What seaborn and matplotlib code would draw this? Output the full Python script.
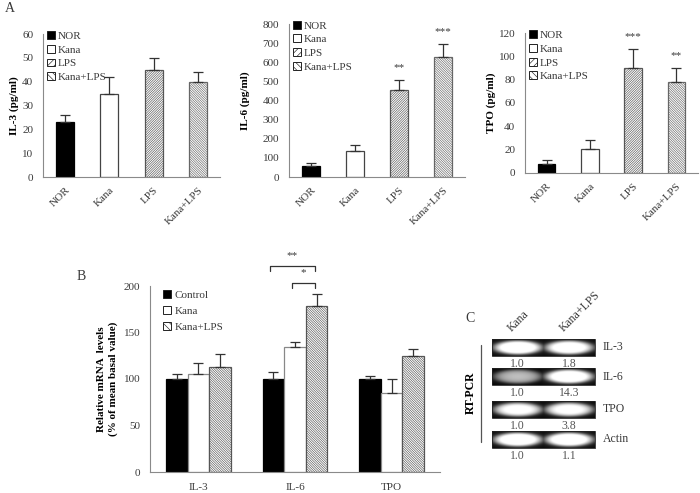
import numpy as np
import pandas as pd
import matplotlib
matplotlib.use("Agg")
import matplotlib.pyplot as plt
from matplotlib.patches import Patch, Rectangle
import seaborn as sns

# ---------------- data ----------------
groups_a = ["NOR", "Kana", "LPS", "Kana+LPS"]
il3_vals = [23, 35, 45, 40]
il3_err = [3, 7, 5, 4]
il6_vals = [60, 135, 455, 625]
il6_err = [15, 30, 50, 70]
tpo_vals = [8, 21, 90, 78]
tpo_err = [3, 7, 16, 12]
il6_stars = ["", "", "**", "***"]
tpo_stars = ["", "", "***", "**"]

genes_b = ["IL-3", "IL-6", "TPO"]
groups_b = ["Control", "Kana", "Kana+LPS"]
control_vals = [100, 100, 100]
control_err = [5, 8, 3]
kana_vals = [105, 134, 85]
kana_err = [12, 6, 15]
kanalps_vals = [113, 179, 125]
kanalps_err = [14, 12, 7]

gel_genes = ["IL-3", "IL-6", "TPO", "Actin"]
gel_lanes = ["Kana", "Kana+LPS"]
gel_ratio = [["1.0", "1.8"], ["1.0", "14.3"], ["1.0", "3.8"], ["1.0", "1.1"]]
gel_intensity = [[1.0, 0.95], [0.6, 1.0], [0.88, 0.88], [1.0, 1.0]]

# ---------------- style ----------------
sns.set_theme(style="white")
plt.rcParams["font.family"] = ["Liberation Serif", "DejaVu Serif"]
plt.rcParams["hatch.linewidth"] = 0.45
TXT = "#3a3a3a"
AX = "#8a8a8a"

fig = plt.figure(figsize=(7.0, 4.93), dpi=100)
W, H = 700.0, 493.0


def px_axes(l, r, t, b):
    return fig.add_axes([l / W, 1 - b / H, (r - l) / W, (b - t) / H])


HATCH_F = "/" * 14
HATCH_B = "\\" * 14
styles_a = {
    "NOR": dict(fc="black", ec="black", hatch=None),
    "Kana": dict(fc="white", ec="#444444", hatch=None),
    "LPS": dict(fc="white", ec="#555555", hatch=HATCH_F),
    "Kana+LPS": dict(fc="white", ec="#666666", hatch=HATCH_B),
}


def style_axis(ax, n, labels, rot):
    ax.set_xlim(-0.5, n - 0.5)
    for s in ["top", "right"]:
        ax.spines[s].set_visible(False)
    for s in ["left", "bottom"]:
        ax.spines[s].set_color(AX)
        ax.spines[s].set_linewidth(0.8)
    ax.set_xticks(np.arange(n + 1) - 0.5)
    ax.set_xticklabels([])
    ax.set_xticks(np.arange(n), minor=True)
    ax.tick_params(axis="x", which="major", direction="out", length=4, color=AX, width=0.8)
    ax.tick_params(axis="x", which="minor", length=0, pad=6 if rot else 8)
    if rot:
        ax.set_xticklabels(labels, minor=True, rotation=45, ha="right",
                           rotation_mode="anchor", fontsize=8, color=TXT)
    else:
        ax.set_xticklabels(labels, minor=True, fontsize=8, color=TXT)
    ax.tick_params(axis="y", direction="out", length=4, color=AX, width=0.8,
                   labelsize=8, labelcolor=TXT, pad=3)
    ax.set_xlabel("")


def panel_a(ax, vals, errs, ylabel, ymax, ystep, stars, labx):
    df = pd.DataFrame({"group": groups_a, "value": vals})
    sns.barplot(data=df, x="group", y="value", hue="group", order=groups_a,
                hue_order=groups_a, palette=["white"] * 4, width=0.41,
                errorbar=None, legend=False, ax=ax, linewidth=0.9)
    for cont, g, e, st in zip(ax.containers, groups_a, errs, stars):
        for p in cont:
            sty = styles_a[g]
            p.set_facecolor(sty["fc"])
            p.set_edgecolor(sty["ec"])
            if sty["hatch"]:
                p.set_hatch(sty["hatch"])
            cx = p.get_x() + p.get_width() / 2
            h = p.get_height()
            ax.errorbar([cx], [h], yerr=[[0], [e]], fmt="none", ecolor="#333333",
                        elinewidth=0.9, capsize=3.5, capthick=0.9, zorder=1)
            if st:
                ax.annotate(st, (cx, h + e), xytext=(0, 9), textcoords="offset points",
                            ha="center", va="center", fontsize=8, color=TXT)
    ax.set_ylim(0, ymax)
    ax.set_yticks(np.arange(0, ymax + 1, ystep))
    style_axis(ax, 4, groups_a, True)
    ax.set_ylabel(ylabel, fontsize=8, fontweight="bold", color="black")
    ax.yaxis.set_label_coords(labx, 0.5)
    handles = [Patch(facecolor=styles_a[g]["fc"], edgecolor="#222222",
                     hatch=("/" * 5 if styles_a[g]["hatch"] == HATCH_F else
                            "\\" * 5 if styles_a[g]["hatch"] else None),
                     linewidth=0.7) for g in groups_a]
    ax.legend(handles, groups_a, loc="upper left", bbox_to_anchor=(0.0, 1.05),
              frameon=False, fontsize=8, handlelength=0.7, handleheight=0.7,
              handletextpad=0.2, labelspacing=0.35, borderaxespad=0.0,
              labelcolor=TXT)


ax1 = px_axes(43, 220, 34, 177)
panel_a(ax1, il3_vals, il3_err, "IL-3 (pg/ml)", 60, 10, ["", "", "", ""], -0.135)
ax2 = px_axes(289, 465, 24, 177)
panel_a(ax2, il6_vals, il6_err, "IL-6 (pg/ml)", 800, 100, il6_stars, -0.22)
ax3 = px_axes(525, 698, 33, 173)
panel_a(ax3, tpo_vals, tpo_err, "TPO (pg/ml)", 120, 20, tpo_stars, -0.17)

# ---------------- panel B ----------------
axb = px_axes(150, 440, 286, 472)
dfb = pd.DataFrame({
    "gene": genes_b * 3,
    "group": [g for g in groups_b for _ in genes_b],
    "value": control_vals + kana_vals + kanalps_vals,
})
errs_b = [control_err, kana_err, kanalps_err]
sns.barplot(data=dfb, x="gene", y="value", hue="group", order=genes_b,
            hue_order=groups_b, palette=["white"] * 3, width=0.67, dodge=True,
            errorbar=None, legend=False, ax=axb, linewidth=0.9)
styles_b = {
    "Control": dict(fc="black", ec="black", hatch=None),
    "Kana": dict(fc="white", ec="#888888", hatch=None),
    "Kana+LPS": dict(fc="white", ec="#555555", hatch=HATCH_B),
}
centers_b = {}
for cont, g, errs in zip(axb.containers, groups_b, errs_b):
    sty = styles_b[g]
    centers_b[g] = []
    for p, e in zip(cont, errs):
        p.set_facecolor(sty["fc"])
        p.set_edgecolor(sty["ec"])
        if sty["hatch"]:
            p.set_hatch(sty["hatch"])
        cx = p.get_x() + p.get_width() / 2
        centers_b[g].append(cx)
        axb.errorbar([cx], [p.get_height()], yerr=[[0], [e]], fmt="none",
                     ecolor="#333333", elinewidth=0.9, capsize=3.5, capthick=0.9, zorder=1)
axb.set_ylim(0, 200)
axb.set_yticks([0, 50, 100, 150, 200])
style_axis(axb, 3, genes_b, False)
axb.set_ylabel("Relative mRNA  levels\n(% of mean basal value)", fontsize=8,
               fontweight="bold", color="black", linespacing=1.3)
axb.yaxis.set_label_coords(-0.11, 0.5)
hb = [Patch(facecolor=styles_b[g]["fc"], edgecolor="#222222",
            hatch=("\\" * 5 if styles_b[g]["hatch"] else None),
            linewidth=0.7) for g in groups_b]
axb.legend(hb, groups_b, loc="upper left", bbox_to_anchor=(0.03, 1.0), frameon=False,
           fontsize=8, handlelength=0.7, handleheight=0.7, handletextpad=0.3,
           labelspacing=0.55, borderaxespad=0.0, labelcolor=TXT)


def bracket(ax, x0, x1, ytop, yleg, txt, ytxt):
    ax.plot([x0, x0, x1, x1], [yleg, ytop, ytop, yleg], color="#333333", lw=0.9,
            clip_on=False)
    ax.text((x0 + x1) / 2, ytxt, txt, ha="center", va="center", fontsize=8,
            color=TXT, clip_on=False)


c_ctrl = centers_b["Control"][1]
c_kana = centers_b["Kana"][1]
c_kl = centers_b["Kana+LPS"][1]
bracket(axb, c_ctrl - 0.04, c_kl - 0.02, 221.5, 216, "**", 233)
bracket(axb, c_kana - 0.03, c_kl - 0.02, 203, 198, "*", 214)

# ---------------- panel C (gel) ----------------
axc = fig.add_axes([460 / W, 0, 240 / W, (H - 280) / H])
axc.set_xlim(460, 700)
axc.set_ylim(493, 280)
axc.axis("off")
gx0, gx1 = 492, 595
row_tops = [339, 368, 401, 431]
row_h = 17
nx, ny = 206, 34
xx = np.linspace(0, 1, nx)[None, :]
yy = np.linspace(0, 1, ny)[:, None]
for gene, top, inten, ratios in zip(gel_genes, row_tops, gel_intensity, gel_ratio):
    img = np.zeros((ny, nx))
    for k, amp in enumerate(inten):
        cx = 0.25 + 0.5 * k
        d = ((np.abs(xx - cx) / 0.235) ** 2 + (np.abs(yy - 0.5) / 0.42) ** 2)
        core = np.exp(-d ** 3)
        halo = np.exp(-d * 0.9)
        img = np.maximum(img, amp * (0.8 * core + 0.45 * halo))
    img = np.clip(img, 0, 1)
    axc.imshow(img, cmap="gray", vmin=0, vmax=1, extent=[gx0, gx1, top + row_h, top],
               aspect="auto", interpolation="bilinear", zorder=2)
    axc.add_patch(Rectangle((gx0, top), gx1 - gx0, row_h, fill=False, ec="#222222",
                            lw=0.6, zorder=3))
    axc.text(603, top + row_h / 2, gene, ha="left", va="center", fontsize=8.5, color=TXT)
    for k, r in enumerate(ratios):
        cx = gx0 + (gx1 - gx0) * (0.25 + 0.5 * k)
        axc.text(cx, top + row_h + 8, r, ha="center", va="center", fontsize=8.5,
                 color="#555555")
for k, lane in enumerate(gel_lanes):
    cx = gx0 + (gx1 - gx0) * (0.25 + 0.5 * k)
    axc.text(cx - 4, 334, lane, rotation=45, ha="left", va="bottom",
             rotation_mode="anchor", fontsize=8.5, color=TXT)
axc.plot([481, 481], [345, 442], color="#555555", lw=0.9)
axc.text(471, 393, "RT-PCR", rotation=90, ha="center", va="center", fontsize=8.5,
         fontweight="bold", color="black")

# panel letters
fig.text(10 / W, 1 - 9 / H, "A", ha="center", va="center", fontsize=10, color=TXT)
fig.text(81 / W, 1 - 276 / H, "B", ha="center", va="center", fontsize=10, color=TXT)
fig.text(470 / W, 1 - 318 / H, "C", ha="center", va="center", fontsize=10, color=TXT)

fig.savefig("out.png", dpi=100, facecolor="white")
